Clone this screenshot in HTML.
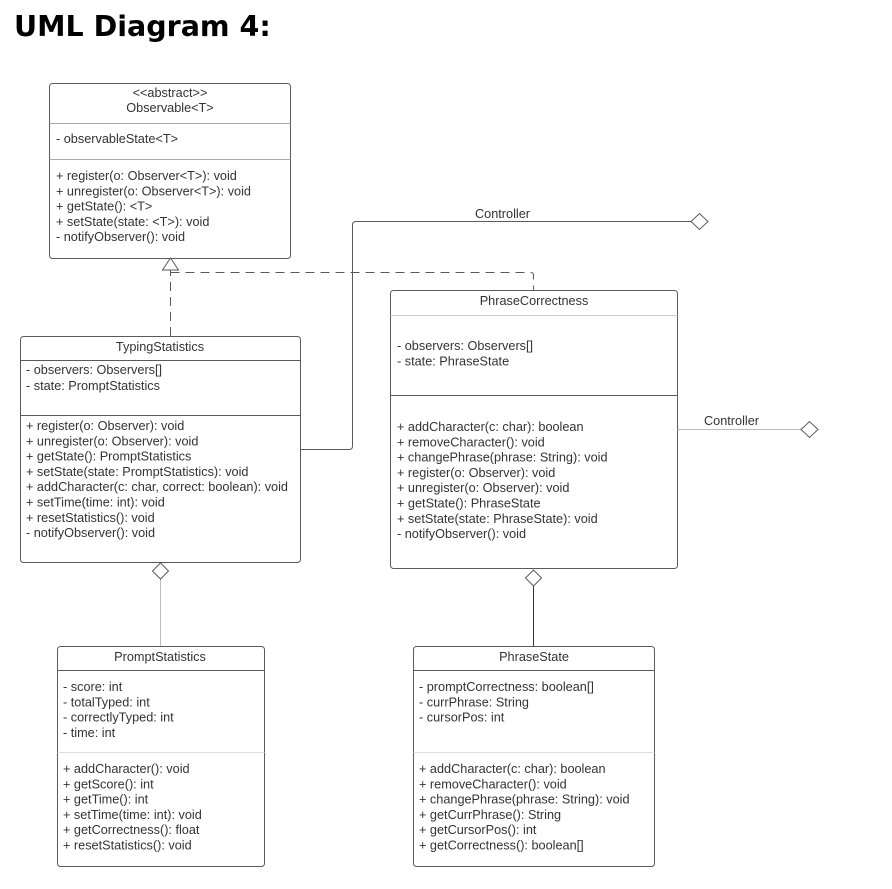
<!DOCTYPE html>
<html><head><meta charset="utf-8"><style>
body{margin:0;background:#fff;}
svg text{font-family:"Liberation Sans",sans-serif;font-size:12.7px;fill:#333;}
</style></head><body>
<svg width="892" height="884" viewBox="0 0 892 884" xmlns="http://www.w3.org/2000/svg">
<text x="14" y="36" style="font-size:28.5px;font-weight:bold;fill:#000;font-family:'DejaVu Sans','Liberation Sans',sans-serif">UML Diagram 4:</text>
<g fill="none" stroke="#5a5a5a" stroke-width="1">
<rect x="49.5" y="83.5" width="241" height="175" rx="3"/>
<line x1="49.5" y1="123.5" x2="290.5" y2="123.5" stroke="#aaa"/>
<line x1="49.5" y1="159.5" x2="290.5" y2="159.5" stroke="#aaa"/>
<rect x="20.5" y="336.5" width="280" height="226" rx="3"/>
<line x1="20.5" y1="360.5" x2="300.5" y2="360.5"/>
<line x1="20.5" y1="415.5" x2="300.5" y2="415.5"/>
<rect x="390.5" y="290.5" width="287" height="278" rx="3"/>
<line x1="390.5" y1="315.5" x2="677.5" y2="315.5" stroke="#ccc"/>
<line x1="390.5" y1="395.5" x2="677.5" y2="395.5"/>
<rect x="57.5" y="646.5" width="207" height="220" rx="3"/>
<line x1="57.5" y1="670.5" x2="264.5" y2="670.5"/>
<line x1="57.5" y1="752.5" x2="264.5" y2="752.5" stroke="#ddd"/>
<rect x="413.5" y="646.5" width="241" height="220" rx="3"/>
<line x1="413.5" y1="670.5" x2="654.5" y2="670.5"/>
<line x1="413.5" y1="752.5" x2="654.5" y2="752.5" stroke="#ddd"/>
<path d="M170.5 336 V270.5 M170.5 272.5 H531 Q533.5 272.5 533.5 275 V290" stroke-dasharray="9 6"/>
<polygon points="170.5,258 162.5,270 178.5,270" fill="#fff"/>
<path d="M300.5 449.5 H349 Q352.5 449.5 352.5 446 V225 Q352.5 221.5 356 221.5 H691"/>
<polygon points="691,221.5 699.5,213.5 708,221.5 699.5,229.5" fill="#fff"/>
<line x1="677.5" y1="429.5" x2="801" y2="429.5" stroke="#bbb"/>
<polygon points="801,429.5 809.5,421.5 818,429.5 809.5,437.5" fill="#fff"/>
<line x1="160.5" y1="579" x2="160.5" y2="646" stroke="#bbb"/>
<polygon points="160.5,563 168.5,571 160.5,579 152.5,571" fill="#fff"/>
<line x1="533.5" y1="586" x2="533.5" y2="646" stroke="#333"/>
<polygon points="533.5,570 541.5,578 533.5,586 525.5,578" fill="#fff"/>
</g>
<text x="475" y="218">Controller</text>
<text x="704" y="425">Controller</text>

<text x="170" y="97" text-anchor="middle">&lt;&lt;abstract&gt;&gt;</text>
<text x="170" y="112" text-anchor="middle">Observable&lt;T&gt;</text>
<text x="56" y="143">- observableState&lt;T&gt;</text>
<text x="56" y="180">+ register(o: Observer&lt;T&gt;): void</text>
<text x="56" y="195.3">+ unregister(o: Observer&lt;T&gt;): void</text>
<text x="56" y="210.6">+ getState(): &lt;T&gt;</text>
<text x="56" y="225.9">+ setState(state: &lt;T&gt;): void</text>
<text x="56" y="241.2">- notifyObserver(): void</text>

<text x="160" y="351" text-anchor="middle">TypingStatistics</text>
<text x="26" y="374">- observers: Observers[]</text>
<text x="26" y="390">- state: PromptStatistics</text>
<text x="26" y="430">+ register(o: Observer): void</text>
<text x="26" y="445.3">+ unregister(o: Observer): void</text>
<text x="26" y="460.6">+ getState(): PromptStatistics</text>
<text x="26" y="475.9">+ setState(state: PromptStatistics): void</text>
<text x="26" y="491.2">+ addCharacter(c: char, correct: boolean): void</text>
<text x="26" y="506.5">+ setTime(time: int): void</text>
<text x="26" y="521.8">+ resetStatistics(): void</text>
<text x="26" y="537.1">- notifyObserver(): void</text>

<text x="534" y="305" text-anchor="middle">PhraseCorrectness</text>
<text x="397" y="350">- observers: Observers[]</text>
<text x="397" y="365.3">- state: PhraseState</text>
<text x="397" y="431">+ addCharacter(c: char): boolean</text>
<text x="397" y="446.3">+ removeCharacter(): void</text>
<text x="397" y="461.6">+ changePhrase(phrase: String): void</text>
<text x="397" y="476.9">+ register(o: Observer): void</text>
<text x="397" y="492.2">+ unregister(o: Observer): void</text>
<text x="397" y="507.5">+ getState(): PhraseState</text>
<text x="397" y="522.8">+ setState(state: PhraseState): void</text>
<text x="397" y="538.1">- notifyObserver(): void</text>

<text x="160" y="661" text-anchor="middle">PromptStatistics</text>
<text x="63" y="691">- score: int</text>
<text x="63" y="706.3">- totalTyped: int</text>
<text x="63" y="721.6">- correctlyTyped: int</text>
<text x="63" y="736.9">- time: int</text>
<text x="63" y="773">+ addCharacter(): void</text>
<text x="63" y="788.3">+ getScore(): int</text>
<text x="63" y="803.6">+ getTime(): int</text>
<text x="63" y="818.9">+ setTime(time: int): void</text>
<text x="63" y="834.2">+ getCorrectness(): float</text>
<text x="63" y="849.5">+ resetStatistics(): void</text>

<text x="534" y="661" text-anchor="middle">PhraseState</text>
<text x="419" y="691">- promptCorrectness: boolean[]</text>
<text x="419" y="706.3">- currPhrase: String</text>
<text x="419" y="721.6">- cursorPos: int</text>
<text x="419" y="773">+ addCharacter(c: char): boolean</text>
<text x="419" y="788.3">+ removeCharacter(): void</text>
<text x="419" y="803.6">+ changePhrase(phrase: String): void</text>
<text x="419" y="818.9">+ getCurrPhrase(): String</text>
<text x="419" y="834.2">+ getCursorPos(): int</text>
<text x="419" y="849.5">+ getCorrectness(): boolean[]</text>
</svg>
</body></html>
